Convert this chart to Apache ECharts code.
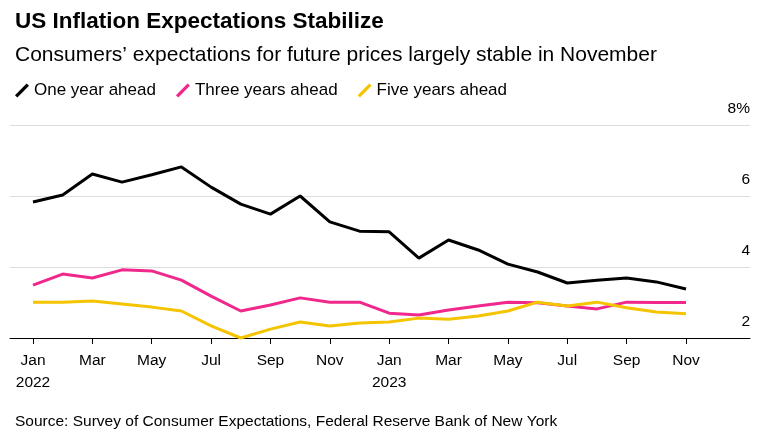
<!DOCTYPE html><html><head><meta charset="utf-8"><script src="https://cdn.jsdelivr.net/npm/echarts@6/dist/echarts.min.js"></script></head><body style="margin:0"><div id="c" style="width:760px;height:436px"></div><script>
const months=['Jan\n2022','Feb','Mar','Apr','May','Jun','Jul','Aug','Sep','Oct','Nov','Dec','Jan\n2023','Feb','Mar','Apr','May','Jun','Jul','Aug','Sep','Oct','Nov'];
const oneYear=[5.83,6.03,6.62,6.39,6.6,6.82,6.25,5.77,5.49,6.0,5.27,5.01,4.99,4.25,4.76,4.48,4.08,3.86,3.55,3.63,3.69,3.58,3.38];
const threeYear=[3.49,3.8,3.69,3.92,3.89,3.63,3.18,2.76,2.93,3.13,3.01,3.01,2.7,2.65,2.79,2.9,3.01,2.99,2.9,2.82,3.01,3.0,3.0];
const fiveYear=[3.01,3.01,3.04,2.96,2.87,2.76,2.34,2.0,2.25,2.45,2.34,2.42,2.45,2.56,2.53,2.62,2.76,3.01,2.9,3.01,2.85,2.73,2.68];
const names=['One year ahead','Three years ahead','Five years ahead'];
const colors=['#000','#f0288c','#f5c400'];
const F='Liberation Sans, Arial, sans-serif';
const c=echarts.init(document.getElementById('c'));
const ln=(n,d,col)=>({name:n,type:'line',data:d,xAxisIndex:0,yAxisIndex:0,symbol:'none',lineStyle:{color:col,width:3},itemStyle:{color:col}});
c.setOption({
 title:[{text:'US Inflation Expectations Stabilize',left:10,top:5,textStyle:{fontFamily:F,fontSize:22.5,fontWeight:'bold',color:'#000'}},
  {text:'Consumers’ expectations for future prices largely stable in November',left:10,top:40,textStyle:{fontFamily:F,fontSize:21,fontWeight:'normal',color:'#000'}},
  {text:'Source: Survey of Consumer Expectations, Federal Reserve Bank of New York',left:10,top:409,textStyle:{fontFamily:F,fontSize:15.5,fontWeight:'normal',color:'#000'}}],
 legend:{left:10,top:77,itemWidth:14,itemHeight:14,itemGap:20,textStyle:{fontFamily:F,fontSize:17,color:'#000'},
  data:names.map((n,i)=>({name:n,icon:'path://M0,10 L10,0 L12,2 L2,12 Z',itemStyle:{color:colors[i],borderWidth:0}}))},
 grid:[{left:33,right:74,top:125,bottom:98},{left:10,right:10,top:125,bottom:98}],
 xAxis:[{type:'category',data:months,boundaryGap:false,gridIndex:0,axisLine:{show:false},axisTick:{interval:1,length:6,lineStyle:{color:'#000'}},axisLabel:{interval:1,fontFamily:F,fontSize:15.5,color:'#000',margin:12,lineHeight:22}},
  {type:'value',gridIndex:1,min:0,max:1,axisLabel:{show:false},axisTick:{show:false},splitLine:{show:false},axisLine:{lineStyle:{color:'#000'}}}],
 yAxis:[{type:'value',gridIndex:0,min:2,max:8,show:false},
  {type:'value',gridIndex:1,min:2,max:8,interval:2,position:'right',axisLine:{show:false},axisTick:{show:false},
   axisLabel:{inside:true,verticalAlign:'bottom',fontFamily:F,fontSize:15.5,color:'#000',margin:0,padding:[0,0,8,0],formatter:v=>v===8?'8%':String(v)},
   splitLine:{lineStyle:{color:'#ddd'}}}],
 series:names.map((n,i)=>ln(n,[oneYear,threeYear,fiveYear][i],colors[i]))
});
</script></body></html>
